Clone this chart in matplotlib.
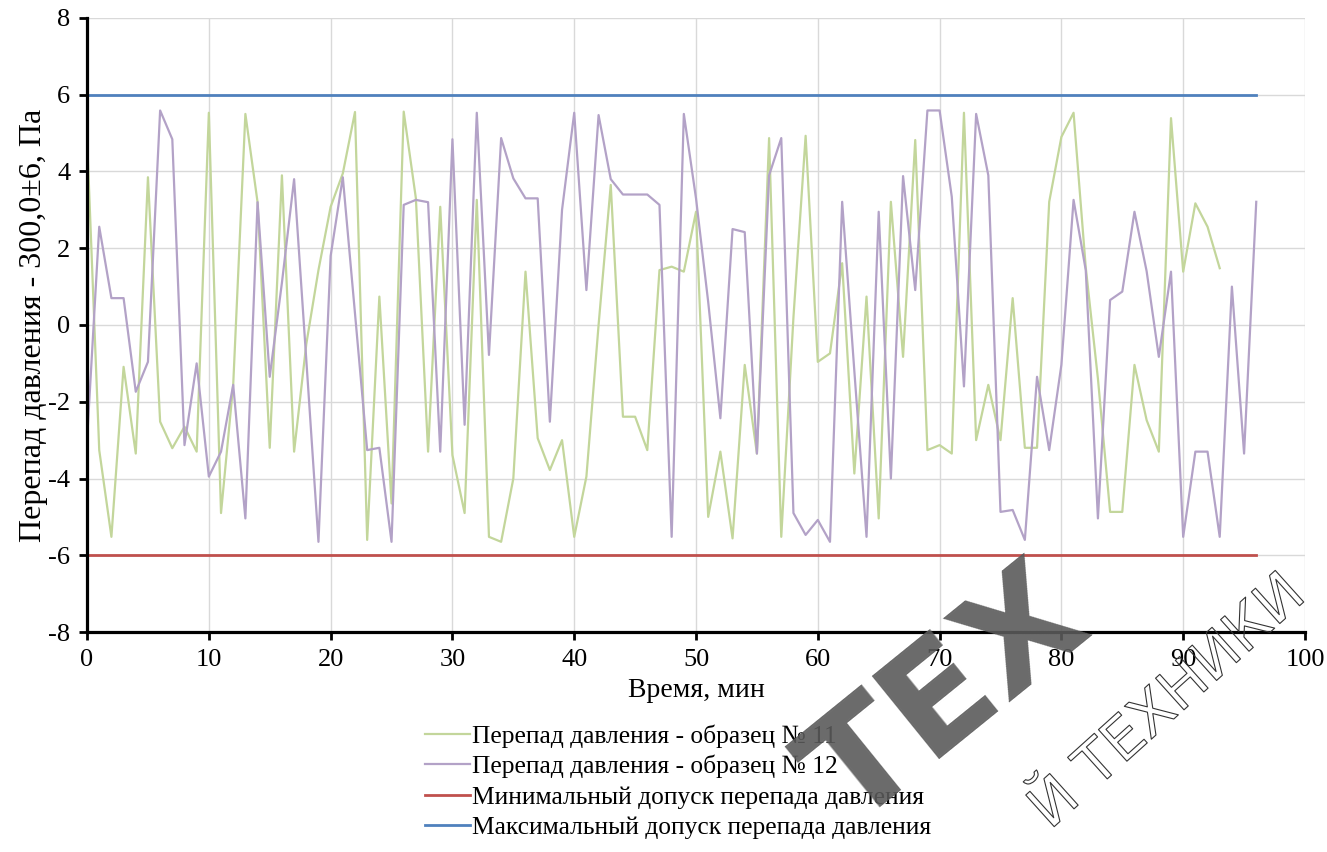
import matplotlib
matplotlib.use("Agg")
import matplotlib.pyplot as plt
import matplotlib.patheffects as pe

plt.rcParams["font.family"] = ["Liberation Serif", "DejaVu Serif"]
plt.rcParams["axes.unicode_minus"] = False

# pressure drop deviation, Pa, one reading per minute
sample_11 = [
    4.9, -3.26, -5.52, -1.09, -3.35, 3.85, -2.52, -3.21, -2.65, -3.3,
    5.53, -4.9, -1.56, 5.5, 3.2, -3.2, 3.9, -3.3, -0.5, 1.43,
    3.08, 3.95, 5.55, -5.6, 0.74, -4.65, 5.56, 3.3, -3.3, 3.08,
    -3.39, -4.9, 3.26, -5.52, -5.65, -4.0, 1.39, -2.95, -3.78, -3.0,
    -5.52, -3.95, 0.0, 3.65, -2.39, -2.39, -3.26, 1.43, 1.52, 1.39,
    2.95, -5.0, -3.3, -5.56, -1.04, -3.35, 4.87, -5.52, 0.2, 4.93,
    -0.96, -0.74, 1.61, -3.87, 0.74, -5.04, 3.21, -0.83, 4.82, -3.26,
    -3.13, -3.35, 5.53, -3.0, -1.56, -3.0, 0.7, -3.2, -3.2, 3.21,
    4.9, 5.53, 1.5, -1.4, -4.87, -4.87, -1.04, -2.48, -3.3, 5.39,
    1.39, 3.17, 2.56, 1.48,
]
sample_12 = [
    -3.0, 2.56, 0.7, 0.7, -1.74, -0.96, 5.59, 4.84, -3.13, -1.0,
    -3.95, -3.3, -1.56, -5.04, 3.2, -1.35, 1.1, 3.8, -0.9, -5.65,
    1.8, 3.85, 0.3, -3.26, -3.2, -5.65, 3.13, 3.26, 3.2, -3.3,
    4.84, -2.6, 5.53, -0.78, 4.87, 3.82, 3.3, 3.3, -2.52, 3.0,
    5.53, 0.91, 5.47, 3.8, 3.4, 3.4, 3.4, 3.13, -5.52, 5.5,
    3.3, 0.6, -2.43, 2.5, 2.42, -3.35, 3.9, 4.87, -4.9, -5.47,
    -5.08, -5.65, 3.21, -1.2, -5.52, 2.95, -4.0, 3.88, 0.91, 5.59,
    5.59, 3.34, -1.6, 5.5, 3.9, -4.87, -4.82, -5.6, -1.35, -3.26,
    -1.04, 3.26, 1.43, -5.04, 0.65, 0.87, 2.95, 1.4, -0.83, 1.39,
    -5.52, -3.3, -3.3, -5.52, 1.0, -3.35, 3.21,
]
t_11 = list(range(len(sample_11)))
t_12 = list(range(len(sample_12)))

tol_min = -6.0
tol_max = 6.0
tol_span = [0, 96]

labels = [
    "Перепад давления - образец № 11",
    "Перепад давления - образец № 12",
    "Минимальный допуск перепада давления",
    "Максимальный допуск перепада давления",
]

W, H = 1327, 852
fig = plt.figure(figsize=(W / 100, H / 100), dpi=100)
ax = fig.add_axes([0.0656, 0.2582, 0.9178, 0.7207])

ax.plot(t_11, sample_11, color="#c3d69b", lw=1.6, label=labels[0])
ax.plot(t_12, sample_12, color="#b3a2c7", lw=1.6, label=labels[1])
ax.plot(tol_span, [tol_min, tol_min], color="#c0504d", lw=2, label=labels[2])
ax.plot(tol_span, [tol_max, tol_max], color="#4f81bd", lw=2, label=labels[3])

ax.set_xlim(0, 100)
ax.set_ylim(-8, 8)
ax.set_xticks(range(0, 101, 10))
ax.set_yticks(range(-8, 9, 2))
ax.grid(True, color="#d9d9d9", lw=1)
ax.set_axisbelow(True)

for side in ("top", "right"):
    ax.spines[side].set_visible(False)
for side in ("left", "bottom"):
    ax.spines[side].set_linewidth(2.3)
ax.tick_params(axis="both", direction="out", length=6, width=2, labelsize=19, pad=6)

ax.set_xlabel("Время, мин", fontsize=20, labelpad=5)
ax.set_ylabel("Перепад давления - 300,0±6, Па", fontsize=23, labelpad=0)

ax.legend(loc="upper left", bbox_to_anchor=(425 / W, 1 - 724 / H),
          bbox_transform=fig.transFigure, frameon=False, fontsize=18.4,
          handlelength=1.75, handletextpad=0.1, labelspacing=0.29,
          borderpad=0, borderaxespad=0)

# stamp across the lower right corner (pixel positions from the top-left)
fig.text(948, H - 700, "ТЕХ", transform=None, fontsize=106, fontweight="bold",
         family="DejaVu Sans", color="#5a5a5a", alpha=0.9,
         rotation=39, ha="center", va="center", zorder=10)
fig.text(1168, H - 702, "Й ТЕХНИКИ", transform=None, fontsize=42,
         family="DejaVu Sans", color="none", rotation=42,
         ha="center", va="center", zorder=10,
         path_effects=[pe.Stroke(linewidth=0.8, foreground="#333333")])

fig.savefig("out.png", dpi=100)
